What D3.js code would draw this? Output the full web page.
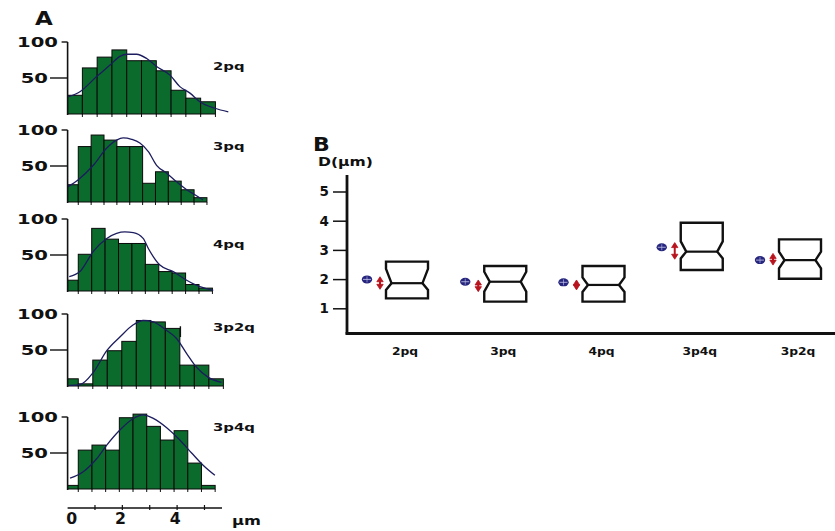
<!DOCTYPE html>
<html>
<head>
<meta charset="UTF-8">
<title>Histograms and notched boxes</title>
<script src="https://d3js.org/d3.v7.min.js"></script>
<style>
  body { margin: 0; background: #fff; }
  text { font-family: "DejaVu Sans", Arial, sans-serif; font-weight: bold; fill: #111; }
</style>
</head>
<body>
<div id="chart"></div>
<script>
// ---- panel A: histograms (counts per bin) ----
const panelNames = ["2pq", "3pq", "4pq", "3p2q", "3p4q"];
const binStart = [0, -0.08, -0.1, -0.14, -0.11];   // µm
const binWidth = [0.54, 0.47, 0.49, 0.53, 0.5];    // µm
const counts2pq  = [26, 64, 79, 89, 74, 74, 60, 33, 22, 17];
const counts3pq  = [24, 77, 93, 86, 77, 77, 26, 42, 29, 17, 6];
const counts4pq  = [15, 51, 87, 72, 66, 66, 37, 27, 25, 9, 4];
const counts3p2q = [10, 3, 36, 49, 62, 91, 89, 80, 29, 29, 10];
const counts3p4q = [5, 54, 61, 54, 99, 104, 87, 68, 81, 36, 5];
const counts = [counts2pq, counts3pq, counts4pq, counts3p2q, counts3p4q];

// fitted curves: µm and count
const fitX2pq  = [0.03, 0.45, 1.06, 1.55, 1.91, 2.16, 2.52, 2.89, 3.25, 3.74, 4.1, 4.47, 4.83, 5.38, 5.87];
const fitY2pq  = [24, 31, 52, 68, 80, 83, 83, 77, 66, 54, 38, 29, 17, 8, 3];
const fitX3pq  = [0, 0.39, 0.94, 1.43, 1.79, 2.03, 2.34, 2.64, 2.95, 3.25, 3.62, 3.98, 4.35, 4.65, 4.95];
const fitY3pq  = [21, 31, 51, 75, 86, 89, 87, 82, 70, 51, 40, 28, 17, 10, 3];
const fitX4pq  = [0.06, 0.45, 0.94, 1.43, 1.79, 2.09, 2.4, 2.76, 2.95, 3.37, 3.86, 4.35, 4.83, 5.32];
const fitY4pq  = [20, 27, 55, 73, 80, 82, 81, 73, 59, 36, 27, 15, 6, 1];
const fitX3p2q = [0.06, 0.45, 0.94, 1.43, 1.91, 2.4, 2.76, 3.13, 3.62, 3.98, 4.35, 4.71, 5.14, 5.62];
const fitY3p2q = [1, 2, 19, 49, 68, 85, 91, 89, 77, 66, 45, 26, 12, 5];
const fitX3p4q = [0.09, 0.57, 1.06, 1.43, 1.91, 2.4, 2.76, 3.13, 3.62, 4.1, 4.53, 4.95, 5.38];
const fitY3p4q = [15, 24, 42, 61, 82, 98, 103, 98, 85, 68, 50, 33, 19];
const fitX = [fitX2pq, fitX3pq, fitX4pq, fitX3p2q, fitX3p4q];
const fitY = [fitY2pq, fitY3pq, fitY4pq, fitY3p2q, fitY3p4q];

const countTicks = [50, 100];
const umTicks = [1, 2, 3, 4, 5];
const umLabels = [0, 2, 4];

// ---- panel B: notched boxes of D (µm) ----
const groups = ["2pq", "3pq", "4pq", "3p4q", "3p2q"];
const boxTop    = [2.6, 2.45, 2.45, 3.93, 3.36];
const boxBottom = [1.34, 1.23, 1.23, 2.31, 2.01];
const boxMedian = [1.86, 1.91, 1.80, 2.94, 2.65];
const notchHigh = [2.35, 2.25, 2.06, 3.29, 2.94];
const notchLow  = [1.63, 1.57, 1.56, 2.71, 2.37];
const meanD     = [1.99, 1.91, 1.89, 3.09, 2.65];
const sdLow     = [1.65, 1.57, 1.63, 2.68, 2.48];
const sdHigh    = [2.08, 1.97, 1.97, 3.25, 2.88];
const dTicks = [1, 2, 3, 4, 5];

const width = 835, height = 531;
const svg = d3.select("#chart").append("svg")
  .attr("width", width).attr("height", height);

const green = "#0b6b2c", navy = "#1c1c5e", red = "#b8141e";

// the scanned lettering is wide, so stretch text horizontally
function label(x, y, txt, size, sx, anchor) {
  return svg.append("text")
    .attr("transform", `translate(${x},${y}) scale(${sx},1)`)
    .attr("text-anchor", anchor || "start")
    .attr("font-size", size)
    .text(txt);
}

// shared µm scale for panel A
const xA = d3.scaleLinear().domain([0, 5.64]).range([67.6, 222]);
const panelTop = [42, 130, 219, 314, 417];
const nameY = [70, 150, 248, 331, 431];
const panelH = 72;

label(35, 25, "A", 20, 1.15);

panelNames.forEach((name, p) => {
  const g = svg.append("g");
  const y = d3.scaleLinear().domain([0, 100]).range([panelTop[p] + panelH, panelTop[p]]);

  const bins = counts[p].map((c, i) => ({
    x0: Math.max(0, binStart[p] + i * binWidth[p]),
    x1: binStart[p] + (i + 1) * binWidth[p],
    c: c
  }));

  g.selectAll("rect").data(bins).join("rect")
    .attr("x", d => xA(d.x0))
    .attr("width", d => xA(d.x1) - xA(d.x0))
    .attr("y", d => y(d.c))
    .attr("height", d => y(0) - y(d.c))
    .attr("fill", green)
    .attr("stroke", "#0a0a0a")
    .attr("stroke-width", 1);

  // small ticks below each bar edge
  g.selectAll("line.edge").data(bins).join("line")
    .attr("x1", d => xA(d.x1)).attr("x2", d => xA(d.x1))
    .attr("y1", y(0)).attr("y2", y(0) + 3)
    .attr("stroke", "#111").attr("stroke-width", 1);

  const line = d3.line()
    .x((d, i) => xA(fitX[p][i]))
    .y(d => y(d))
    .curve(d3.curveMonotoneX);
  g.append("path").datum(fitY[p])
    .attr("d", line)
    .attr("fill", "none")
    .attr("stroke", navy)
    .attr("stroke-width", 1.3);

  // y axis
  g.append("line")
    .attr("x1", xA(0)).attr("x2", xA(0))
    .attr("y1", y(100)).attr("y2", y(0) + 1)
    .attr("stroke", "#111").attr("stroke-width", 1.6);
  g.append("line")
    .attr("x1", xA(0) - 6).attr("x2", xA(0))
    .attr("y1", y(100)).attr("y2", y(100))
    .attr("stroke", "#111").attr("stroke-width", 1.4);
  g.append("line")
    .attr("x1", 50).attr("x2", xA(0))
    .attr("y1", y(50)).attr("y2", y(50))
    .attr("stroke", "#111").attr("stroke-width", 1.4);
  countTicks.forEach(t => {
    label(t === 100 ? 58 : 48, y(t) + 5, t, 14, 1.4, "end");
  });

  label(213, nameY[p], name, 11, 1.35);
});

// stray mark next to the 3p2q histogram
{
  const y4 = d3.scaleLinear().domain([0, 100]).range([panelTop[3] + panelH, panelTop[3]]);
  svg.append("line")
    .attr("x1", xA(4.12)).attr("x2", xA(4.12))
    .attr("y1", y4(68)).attr("y2", y4(83))
    .attr("stroke", "#111").attr("stroke-width", 1.4);
}

// bottom µm axis
const axY = 508;
svg.append("line")
  .attr("x1", xA(0)).attr("x2", xA(5.64))
  .attr("y1", axY).attr("y2", axY)
  .attr("stroke", "#111").attr("stroke-width", 1.6);
svg.selectAll("line.umtick").data(umTicks).join("line")
  .attr("x1", d => xA(d)).attr("x2", d => xA(d))
  .attr("y1", axY - 3).attr("y2", axY + 2)
  .attr("stroke", "#111").attr("stroke-width", 1.2);
umLabels.forEach(d => {
  label(xA(d) + (d === 0 ? 4 : -2), axY + 16, d, 15, 1.05, "middle");
});
label(232, axY + 17, "µm", 13, 1.25).attr("font-weight", "normal");

// ---- panel B ----
const yB = d3.scaleLinear().domain([0, 5]).range([337.5, 191.5]);
const xB = d3.scalePoint().domain(groups).range([405, 798]);
const axX = 347;

label(313, 151, "B", 20, 1.1);
label(318, 166, "D(µm)", 12, 1.3);

const yAxis = svg.append("g")
  .attr("transform", `translate(${axX},0)`)
  .call(d3.axisLeft(yB).tickValues(dTicks).tickSize(14).tickPadding(4).tickFormat(d3.format("d")));
yAxis.select(".domain").remove();
yAxis.selectAll("line").attr("stroke", "#111").attr("stroke-width", 1.5);
yAxis.selectAll("text")
  .attr("font-size", 13.5)
  .attr("font-family", "'DejaVu Sans', Arial, sans-serif")
  .attr("font-weight", "bold")
  .attr("fill", "#111");

svg.append("line")
  .attr("x1", axX).attr("x2", axX).attr("y1", 175).attr("y2", 334.5)
  .attr("stroke", "#111").attr("stroke-width", 2.8);
svg.append("line")
  .attr("x1", axX - 1.4).attr("x2", width).attr("y1", 333.5).attr("y2", 333.5)
  .attr("stroke", "#111").attr("stroke-width", 2.8);

groups.forEach(d => label(xB(d), 355, d, 11, 1.12, "middle"));

const boxW = 42, notchD = 5.5;
groups.forEach((grp, i) => {
  const c = xB(grp) + 2;
  const x0 = c - boxW / 2, x1 = c + boxW / 2;
  const path = [
    [x0, yB(boxTop[i])], [x0, yB(notchHigh[i])], [x0 + notchD, yB(boxMedian[i])],
    [x0, yB(notchLow[i])], [x0, yB(boxBottom[i])], [x1, yB(boxBottom[i])],
    [x1, yB(notchLow[i])], [x1 - notchD, yB(boxMedian[i])], [x1, yB(notchHigh[i])],
    [x1, yB(boxTop[i])]
  ];
  svg.append("path")
    .attr("d", d3.line()(path) + "Z")
    .attr("fill", "#fff")
    .attr("stroke", "#111")
    .attr("stroke-width", 2.4);
  svg.append("line")
    .attr("x1", x0 + notchD).attr("x2", x1 - notchD)
    .attr("y1", yB(boxMedian[i])).attr("y2", yB(boxMedian[i]))
    .attr("stroke", "#111").attr("stroke-width", 2.2);

  // mean marker
  const mx = c - 40, my = yB(meanD[i]);
  svg.append("ellipse")
    .attr("cx", mx).attr("cy", my).attr("rx", 5.2).attr("ry", 4)
    .attr("fill", "#26267e");
  svg.append("line")
    .attr("x1", mx - 4).attr("x2", mx + 4).attr("y1", my).attr("y2", my)
    .attr("stroke", "#c8c8f0").attr("stroke-width", 0.8);
  svg.append("line")
    .attr("x1", mx).attr("x2", mx).attr("y1", my - 3).attr("y2", my + 3)
    .attr("stroke", "#c8c8f0").attr("stroke-width", 0.6);

  // spread arrow
  const ax = c - 27, yHi = yB(sdHigh[i]), yLo = yB(sdLow[i]);
  svg.append("line")
    .attr("x1", ax).attr("x2", ax).attr("y1", yHi + 2).attr("y2", yLo - 2)
    .attr("stroke", red).attr("stroke-width", 2);
  svg.append("path")
    .attr("d", `M${ax - 3.2},${yHi + 5}L${ax},${yHi}L${ax + 3.2},${yHi + 5}Z`
             + `M${ax - 3.2},${yLo - 5}L${ax},${yLo}L${ax + 3.2},${yLo - 5}Z`)
    .attr("fill", red).attr("stroke", red).attr("stroke-width", 0.8);
});
</script>
</body>
</html>
